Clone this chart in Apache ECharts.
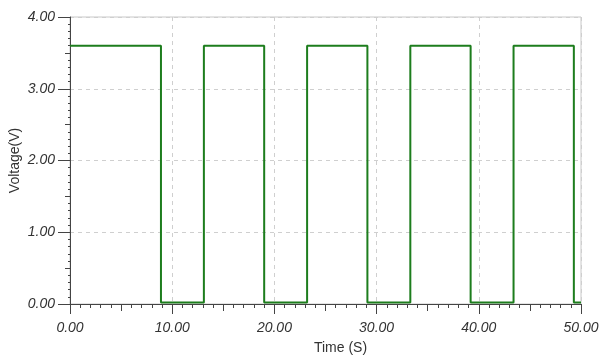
<!DOCTYPE html>
<html><head><meta charset="utf-8">
<script src="https://cdn.jsdelivr.net/npm/echarts@6/dist/echarts.min.js"></script>
<style>html,body{margin:0;padding:0;background:#fff}#c{width:611px;height:356px}</style>
</head><body><div id="c"></div>
<script>
// Square-wave edges (time in S) and levels (V)
const edgeTimes = [8.9, 13.1, 19.0, 23.2, 29.1, 33.3, 39.2, 43.4, 49.3];
const highLevel = 3.6;
const lowLevel = 0.02;
const startTime = 0;
const endTime = 50;
const xTickLabels = ['0.00', '10.00', '20.00', '30.00', '40.00', '50.00'];
const yTickLabels = ['0.00', '1.00', '2.00', '3.00', '4.00'];

const pts = [];
let level = highLevel;
pts.push([startTime, level]);
edgeTimes.forEach(t => {
  pts.push([t, level]);
  level = (level === highLevel) ? lowLevel : highLevel;
  pts.push([t, level]);
});
pts.push([endTime, level]);

const font = {fontFamily: 'Liberation Sans, Arial, sans-serif', fontStyle: 'italic', fontSize: 14, color: '#333'};
const chart = echarts.init(document.getElementById('c'));
chart.setOption({
  animation: false,
  grid: {left: 70, right: 30, top: 17, bottom: 52, show: true, borderColor: '#c8c8c8', borderWidth: 1,
         containLabel: false, outerBoundsMode: 'none'},
  xAxis: [{
    type: 'value', min: 0, max: 50, interval: 10,
    name: 'Time (S)', nameLocation: 'middle', nameGap: 37, nameMoveOverlap: false,
    nameTextStyle: {fontFamily: 'Liberation Sans, Arial, sans-serif', fontSize: 14, color: '#333', padding: [0, 0, 0, 30]},
    axisLine: {show: true, lineStyle: {color: '#444', width: 1}},
    axisTick: {show: true, inside: false, length: 10, lineStyle: {color: '#444'}},
    minorTick: {show: true, splitNumber: 10, length: 4, lineStyle: {color: '#444'}},
    axisLabel: Object.assign({margin: 17, formatter: v => xTickLabels[Math.round(v / 10)]}, font),
    splitLine: {show: true, lineStyle: {color: '#cfcfcf', type: [4, 4]}}
  }, {
    type: 'value', min: 0, max: 50, interval: 5, position: 'bottom',
    axisLine: {show: false}, axisLabel: {show: false}, splitLine: {show: false},
    axisTick: {show: true, length: 7, lineStyle: {color: '#444'}}
  }],
  yAxis: [{
    type: 'value', min: 0, max: 4, interval: 1,
    name: 'Voltage(V)', nameLocation: 'middle', nameGap: 48, nameMoveOverlap: false,
    nameTextStyle: {fontFamily: 'Liberation Sans, Arial, sans-serif', fontSize: 14, color: '#333'},
    axisLine: {show: true, lineStyle: {color: '#444', width: 1}},
    axisTick: {show: true, length: 12, lineStyle: {color: '#444'}},
    minorTick: {show: true, splitNumber: 10, length: 2, lineStyle: {color: '#444'}},
    axisLabel: Object.assign({margin: 15, formatter: v => yTickLabels[Math.round(v)]}, font),
    splitLine: {show: true, lineStyle: {color: '#cfcfcf', type: [4, 4]}}
  }, {
    type: 'value', min: 0, max: 4, interval: 0.5, position: 'left',
    axisLine: {show: false}, axisLabel: {show: false}, splitLine: {show: false},
    axisTick: {show: true, length: 5, lineStyle: {color: '#444'}}
  }],
  series: [{
    type: 'line', xAxisIndex: 0, yAxisIndex: 0, data: pts, showSymbol: false,
    lineStyle: {color: '#1d7d1d', width: 2}, clip: false
  }]
});
</script></body></html>
